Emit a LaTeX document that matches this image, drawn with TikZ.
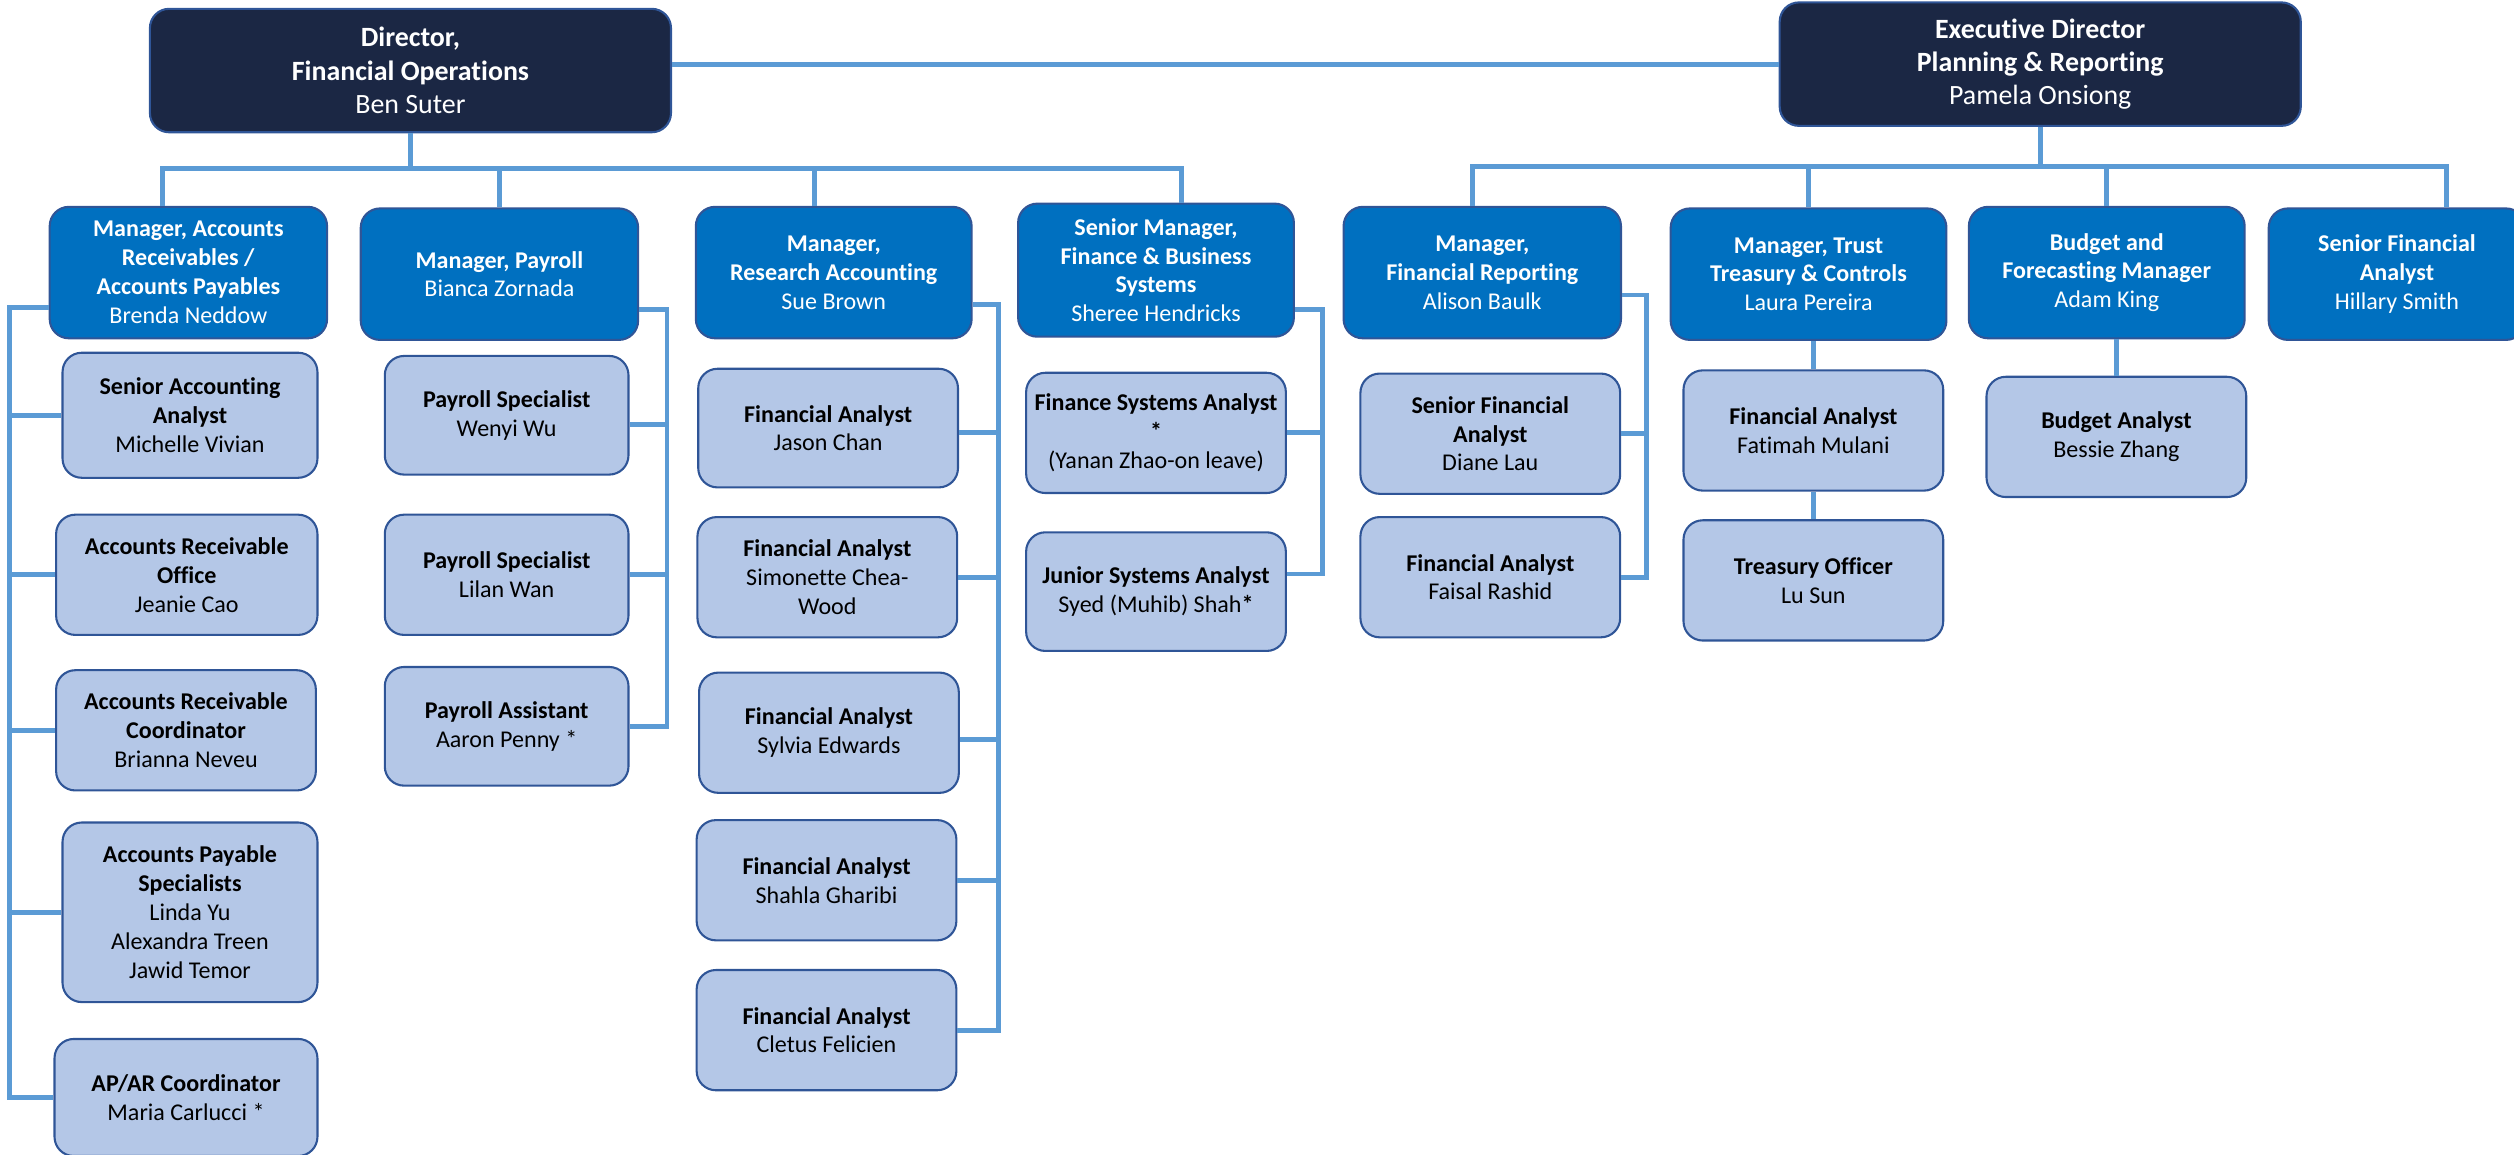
\documentclass[tikz,border=0pt]{standalone}
\usepackage{fontspec}
\setmainfont{Carlito}[Ligatures=NoCommon]
\usepackage{xcolor}
\definecolor{navy}{HTML}{1B2744}
\definecolor{midblue}{HTML}{0070C0}
\definecolor{paleblue}{HTML}{B4C7E7}
\definecolor{edgeblue}{HTML}{2F5597}
\definecolor{linkblue}{HTML}{5B9BD5}
\tikzset{
    box/.style={draw=edgeblue, line width=1.3pt, rounded corners=12pt,
        align=center, inner sep=2pt, font=\fontsize{15}{18}\selectfont},
    topbox/.style={box, fill=navy, text=white, minimum width=325pt, minimum height=77pt,
        font=\fontsize{17.4}{20.8}\selectfont},
    mgr/.style={box, fill=midblue, text=white, minimum width=173pt, minimum height=82pt},
    staff/.style={box, fill=paleblue, text=black, minimum width=162pt, minimum height=75pt},
    link/.style={draw=linkblue, line width=3pt}
}

\begin{document}
\begin{tikzpicture}[x=1pt, y=-1pt]
        \useasboundingbox (0,0) rectangle (1568,720);
        % Direzione
        \node[topbox] (dir) at (256,44) {\textbf{Director,}\\\textbf{Financial Operations}\\Ben Suter};
        \node[topbox] (exec) at (1272.5,40) {\textbf{Executive Director}\\\textbf{Planning \& Reporting}\\Pamela Onsiong};
        % Manager
        \node[mgr] (mAR) at (117.5,170) {\textbf{Manager, Accounts}\\\textbf{Receivables /}\\\textbf{Accounts Payables}\\Brenda Neddow};
        \node[mgr] (mPay) at (311.5,171) {\textbf{Manager, Payroll}\\Bianca Zornada};
        \node[mgr, minimum width=172pt] (mRes) at (520,170) {\textbf{Manager,}\\\textbf{Research Accounting}\\Sue Brown};
        \node[mgr, minimum width=172pt, minimum height=83pt] (mSys) at (721,168.5) {\textbf{Senior Manager,}\\\textbf{Finance \& Business}\\\textbf{Systems}\\Sheree Hendricks};
        \node[mgr] (mRep) at (924.5,170) {\textbf{Manager,}\\\textbf{Financial Reporting}\\Alison Baulk};
        \node[mgr, minimum width=172pt] (mTru) at (1128,171) {\textbf{Manager, Trust}\\\textbf{Treasury \& Controls}\\Laura Pereira};
        \node[mgr, minimum width=172pt] (mBud) at (1314,170) {\textbf{Budget and}\\\textbf{Forecasting Manager}\\Adam King};
        \node[mgr, minimum width=160pt] (mSFA) at (1495,171) {\textbf{Senior Financial}\\\textbf{Analyst}\\Hillary Smith};
        % Contabilita
        \node[staff, minimum width=159pt, minimum height=78pt] (s1) at (118.5,259) {\textbf{Senior Accounting}\\\textbf{Analyst}\\Michelle Vivian};
        \node[staff, minimum width=163pt] (s2) at (116.5,358.5) {\textbf{Accounts Receivable}\\\textbf{Office}\\Jeanie Cao};
        \node[staff] (s3) at (116,455.5) {\textbf{Accounts Receivable}\\\textbf{Coordinator}\\Brianna Neveu};
        \node[staff, minimum width=159pt, minimum height=112pt] (s4) at (118.5,569) {\textbf{Accounts Payable}\\\textbf{Specialists}\\Linda Yu\\Alexandra Treen\\Jawid Temor};
        \node[staff, minimum width=164pt, minimum height=73pt] (s5) at (116,684.5) {\textbf{AP/AR Coordinator}\\Maria Carlucci *};
        % Payroll
        \node[staff, minimum width=152pt, minimum height=74pt] (p1) at (316,259) {\textbf{Payroll Specialist}\\Wenyi Wu};
        \node[staff, minimum width=152pt] (p2) at (316,358.5) {\textbf{Payroll Specialist}\\Lilan Wan};
        \node[staff, minimum width=152pt, minimum height=74pt] (p3) at (316,453) {\textbf{Payroll Assistant}\\Aaron Penny *};
        % Ricerca
        \node[staff, minimum height=74pt] (r1) at (516.5,267) {\textbf{Financial Analyst}\\Jason Chan};
        \node[staff] (r2) at (516,360) {\textbf{Financial Analyst}\\Simonette Chea-\\Wood};
        \node[staff] (r3) at (517,457) {\textbf{Financial Analyst}\\Sylvia Edwards};
        \node[staff] (r4) at (515.5,549) {\textbf{Financial Analyst}\\Shahla Gharibi};
        \node[staff] (r5) at (515.5,642.5) {\textbf{Financial Analyst}\\Cletus Felicien};
        % Sistemi
        \node[staff] (y1) at (721,270) {\textbf{Finance Systems Analyst}\\\textbf{*}\\(Yanan Zhao-on leave)};
        \node[staff, minimum height=74pt] (y2) at (721,369) {\textbf{Junior Systems Analyst}\\Syed (Muhib) Shah\textbf{*}};
        % Reporting, tesoreria, budget
        \node[staff] (f1) at (929.5,270.5) {\textbf{Senior Financial}\\\textbf{Analyst}\\Diane Lau};
        \node[staff] (f2) at (929.5,360) {\textbf{Financial Analyst}\\Faisal Rashid};
        \node[staff] (t1) at (1131,268.5) {\textbf{Financial Analyst}\\Fatimah Mulani};
        \node[staff] (t2) at (1131,362) {\textbf{Treasury Officer}\\Lu Sun};
        \node[staff] (b1) at (1320,272.5) {\textbf{Budget Analyst}\\Bessie Zhang};
        % Collegamenti in alto
        \coordinate (fBus) at (0,105);
        \coordinate (eBus) at (0,104);
        \draw[link] (exec.west) -- (exec.west -| dir.east);
        \draw[link] (dir.south) -- (dir.south |- fBus);
        \draw[link] ([xshift=-16pt]mAR.north) |- ([xshift=16pt]mSys.north |- fBus) -- ([xshift=16pt]mSys.north);
        \draw[link] (mPay.north) -- (mPay.north |- fBus);
        \draw[link] ([xshift=-12pt]mRes.north) -- ([xshift=-12pt]mRes.north |- fBus);
        \draw[link] (exec.south) -- (exec.south |- eBus);
        \draw[link] ([xshift=-6pt]mRep.north) |- ([xshift=31pt]mSFA.north |- eBus) -- ([xshift=31pt]mSFA.north);
        \draw[link] (mTru.north) -- (mTru.north |- eBus);
        \draw[link] (mBud.north) -- (mBud.north |- eBus);
        % Collegamenti laterali
        \coordinate (arRail) at (6,192);
        \draw[link] (mAR.west |- arRail) -- (arRail) |- (s5.west);
        \foreach \n in {s1,s2,s3,s4}
            \draw[link] (\n.west) -- (\n.west -| arRail);
        \coordinate (payRail) at (416,193);
        \draw[link] (mPay.east |- payRail) -- (payRail) |- (p3.east);
        \draw[link] ([yshift=-6pt]p1.east) -- ([yshift=-6pt]p1.east -| payRail);
        \draw[link] (p2.east) -- (p2.east -| payRail);
        \coordinate (resRail) at (623,190);
        \draw[link] (mRes.east |- resRail) -- (resRail) |- (r5.east);
        \draw[link] ([yshift=-3pt]r1.east) -- ([yshift=-3pt]r1.east -| resRail);
        \draw[link] (r2.east) -- (r2.east -| resRail);
        \draw[link] ([yshift=-4pt]r3.east) -- ([yshift=-4pt]r3.east -| resRail);
        \draw[link] (r4.east) -- (r4.east -| resRail);
        \coordinate (sysRail) at (825,193);
        \draw[link] (mSys.east |- sysRail) -- (sysRail) |- ([yshift=11pt]y2.east);
        \draw[link] (y1.east) -- (y1.east -| sysRail);
        \coordinate (repRail) at (1027,184);
        \draw[link] (mRep.east |- repRail) -- (repRail) |- (f2.east);
        \draw[link] (f1.east) -- (f1.east -| repRail);
        \draw[link] (t1.north) -- (t1.north |- mTru.south);
        \draw[link] (t2.north) -- (t1.south);
        \draw[link] (b1.north) -- (b1.north |- mBud.south);
    \end{tikzpicture}
\end{document}
